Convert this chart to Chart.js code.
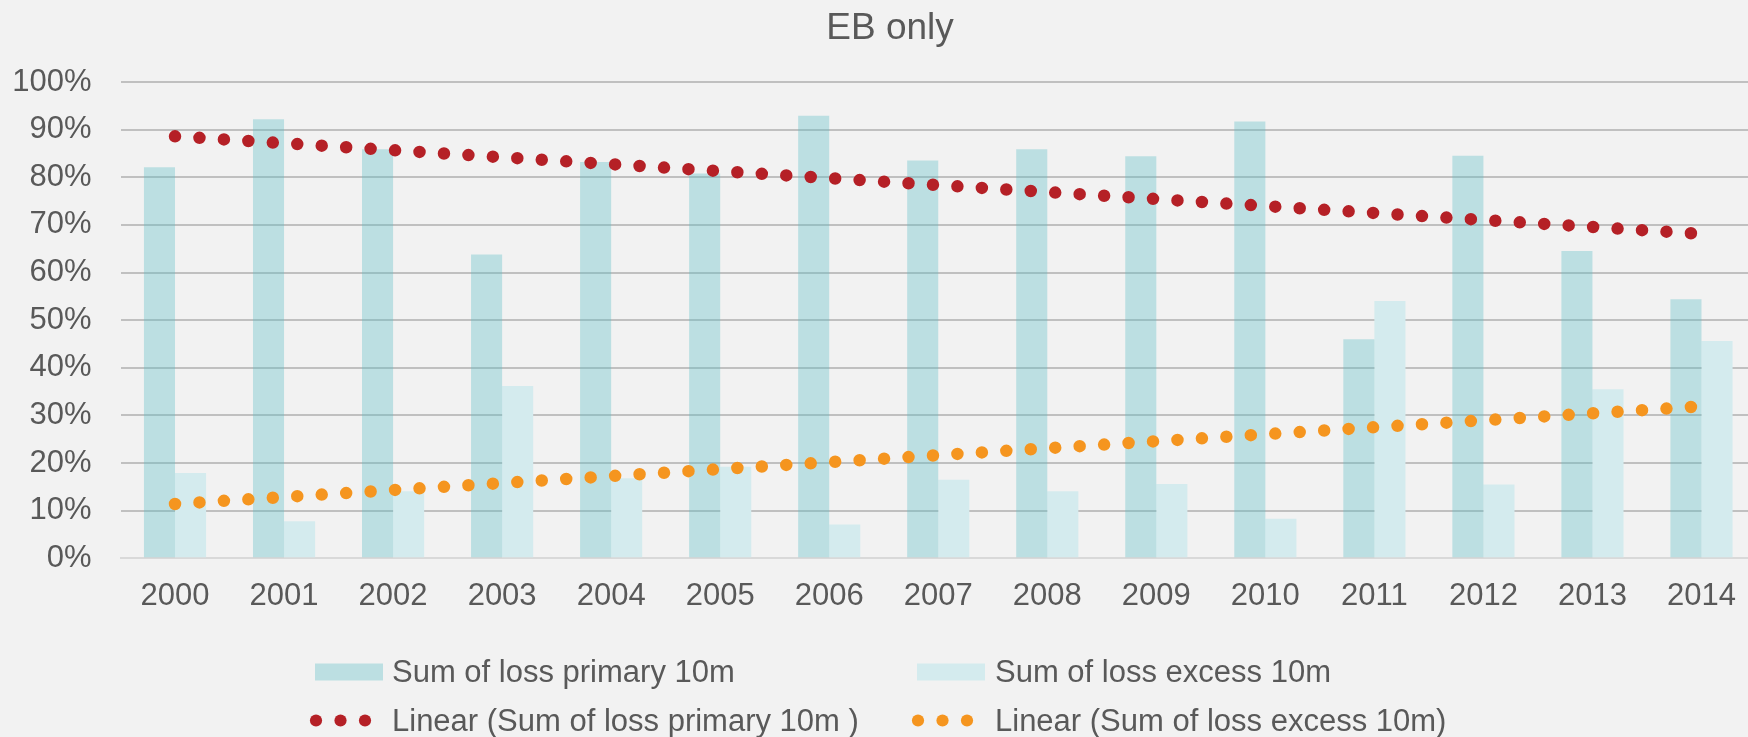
<!DOCTYPE html>
<html>
<head>
<meta charset="utf-8">
<script src="https://cdn.jsdelivr.net/npm/chart.js@4/dist/chart.umd.min.js"></script>
<style>
html,body{margin:0;padding:0;background:#f2f2f2;overflow:hidden}
#wrap{width:1780px;height:737px;position:relative}
</style>
</head>
<body>
<div id="wrap"><canvas id="c"></canvas></div>
<script>
const categories = ['2000','2001','2002','2003','2004','2005','2006','2007','2008','2009','2010','2011','2012','2013','2014'];
const primaryValues = [82.1, 92.2, 85.9, 63.8, 83.2, 80.8, 92.9, 83.5, 85.9, 84.4, 91.7, 46.0, 84.5, 64.5, 54.4];
const excessValues  = [17.9, 7.8, 14.1, 36.2, 16.8, 19.2, 7.1, 16.5, 14.1, 15.6, 8.3, 54.0, 15.5, 35.5, 45.6];
const trendPrimary = [88.6, null, null, null, null, null, null, null, null, null, null, null, null, null, 68.1];
const trendExcess  = [11.4, null, null, null, null, null, null, null, null, null, null, null, null, null, 31.9];
const seriesLabels = ['Sum of loss primary 10m', 'Sum of loss excess 10m', 'Linear (Sum of loss primary 10m )', 'Linear (Sum of loss excess 10m)'];
const yTickValues = [0,10,20,30,40,50,60,70,80,90,100];
const chartTitle = 'EB only';

const FONT = '"Liberation Sans", Arial, sans-serif';
const TEXT = '#595959';

const legendPlugin = {
  id: 'gridLegend',
  afterDraw(chart) {
    const ctx = chart.ctx;
    ctx.save();
    // title
    ctx.font = '37px ' + FONT;
    ctx.fillStyle = TEXT;
    ctx.textBaseline = 'alphabetic';
    ctx.textAlign = 'center';
    ctx.fillText(chartTitle, 890, 38.5);
    // legend
    const rows = [672, 720.5];
    const swatchX = [315, 917];
    const textX = [392, 995];
    ctx.font = '31px ' + FONT;
    ctx.textAlign = 'left';
    chart.data.datasets.forEach((ds, i) => {
      const col = i % 2, row = Math.floor(i / 2);
      const y = rows[row], x = swatchX[col];
      if (ds.type === 'bar') {
        ctx.fillStyle = ds.backgroundColor;
        ctx.fillRect(x, y - 8.5, 68, 17);
      } else {
        ctx.fillStyle = ds.borderColor;
        for (let k = 0; k < 3; k++) {
          ctx.beginPath();
          ctx.arc(x + 1 + k * 24.5, y, 6.1, 0, Math.PI * 2);
          ctx.fill();
        }
      }
      ctx.fillStyle = TEXT;
      ctx.fillText(ds.label, textX[col], y + 10.2);
    });
    ctx.restore();
  }
};

new Chart(document.getElementById('c'), {
  data: {
    labels: categories,
    datasets: [
      { type: 'bar', label: seriesLabels[0], data: primaryValues, backgroundColor: 'rgba(88,188,199,0.35)',
        borderWidth: 0, categoryPercentage: 0.57, barPercentage: 1.0, order: 1 },
      { type: 'bar', label: seriesLabels[1], data: excessValues, backgroundColor: '#d4ebee',
        borderWidth: 0, categoryPercentage: 0.57, barPercentage: 1.0, order: 1 },
      { type: 'line', label: seriesLabels[2], data: trendPrimary, borderColor: '#b52026', borderWidth: 12.5,
        borderDash: [0, 24.5], borderCapStyle: 'round', pointRadius: 0, spanGaps: true, fill: false, order: 0 },
      { type: 'line', label: seriesLabels[3], data: trendExcess, borderColor: '#f5951f', borderWidth: 12.5,
        borderDash: [0, 24.5], borderCapStyle: 'round', pointRadius: 0, spanGaps: true, fill: false, order: 0 }
    ]
  },
  options: {
    responsive: true,
    maintainAspectRatio: false,
    animation: false,
    events: [],
    layout: { padding: { left: 0, right: 24, top: 82, bottom: 122 } },
    plugins: {
      legend: { display: false },
      tooltip: { enabled: false },
      title: { display: false }
    },
    scales: {
      x: {
        grid: { display: false, drawTicks: false },
        border: { display: true, color: '#d9d9d9', width: 2 },
        afterFit: s => { s.height = 56.7; },
        ticks: { color: TEXT, font: { family: FONT, size: 31 }, padding: 20, maxRotation: 0, autoSkip: false }
      },
      y: {
        min: 0, max: 100,
        afterBuildTicks: s => { s.ticks = yTickValues.map(v => ({ value: v })); },
        afterFit: s => { s.width = 120.5; },
        border: { display: false },
        grid: { drawTicks: false, lineWidth: 2,
          color: c => (c.tick && c.tick.value === 0) ? '#d9d9d9' : '#c0c0c0' },
        ticks: { color: TEXT, font: { family: FONT, size: 31 }, padding: 29, callback: v => v + '%' }
      }
    }
  },
  plugins: [legendPlugin]
});
</script>
</body>
</html>
